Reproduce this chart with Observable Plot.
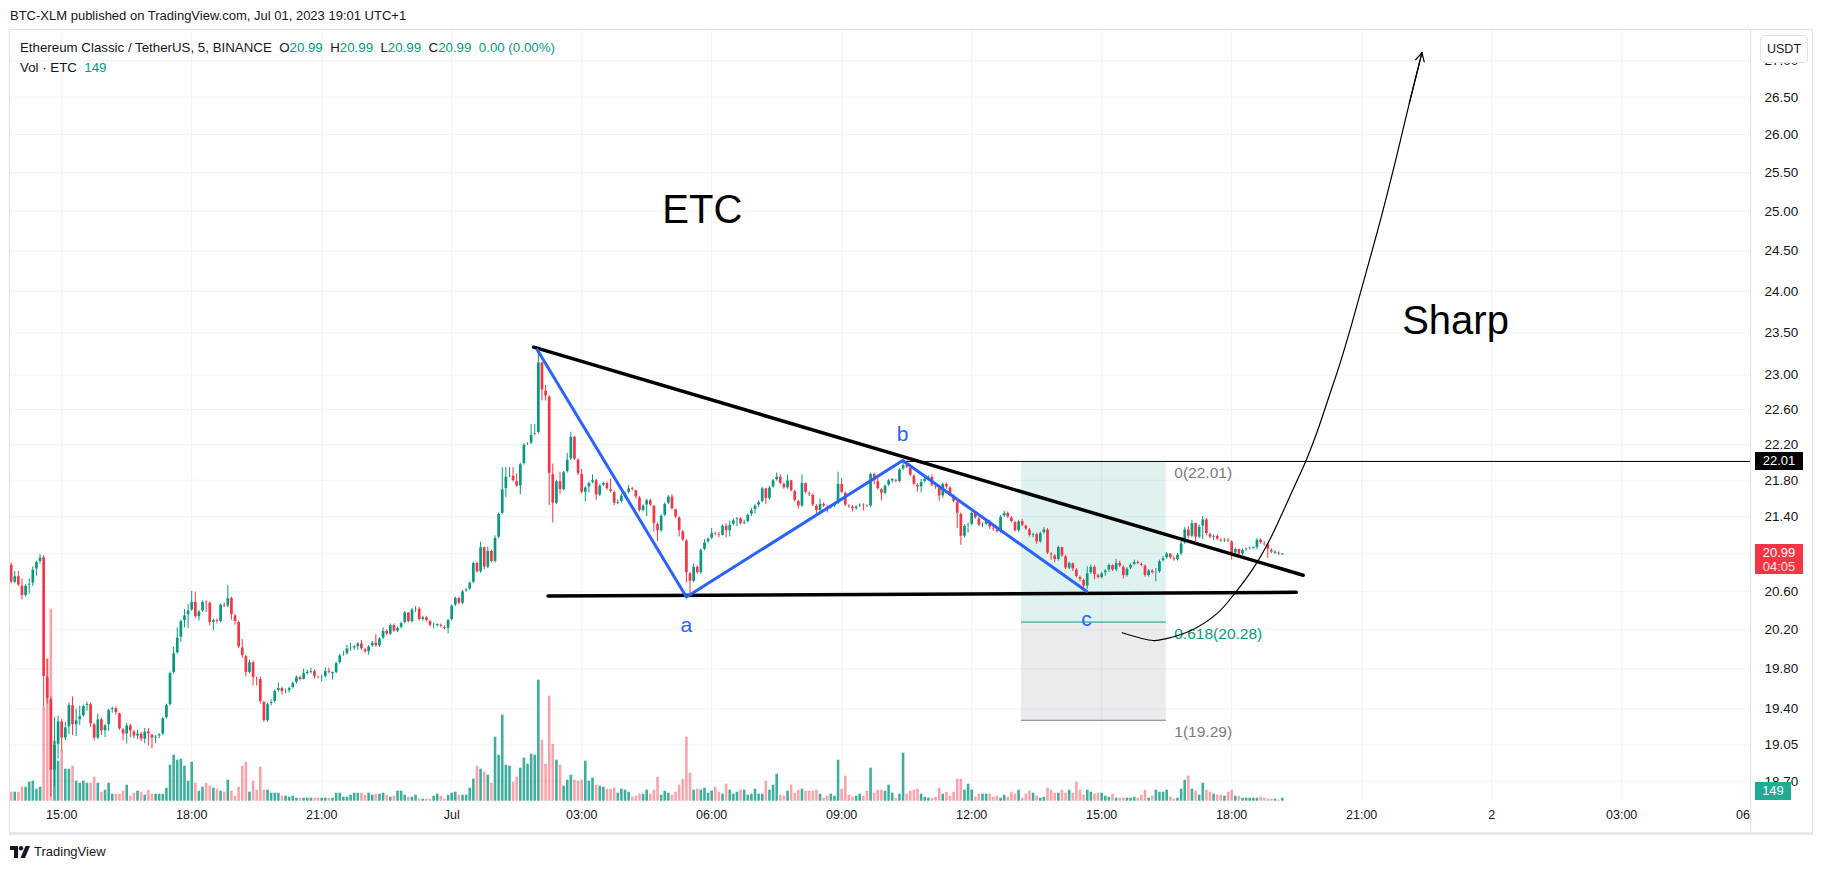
<!DOCTYPE html>
<html><head><meta charset="utf-8">
<script src="https://cdn.jsdelivr.net/npm/d3@7"></script>
<script src="https://cdn.jsdelivr.net/npm/@observablehq/plot@0.6"></script>
<style>
html,body{margin:0;padding:0;background:#fff;}
body{font-family:"Liberation Sans",Arial,sans-serif;color:#131722;width:1824px;height:872px;position:relative;overflow:hidden;}
#pub{position:absolute;left:10px;top:8px;font-size:13px;line-height:16px;white-space:nowrap;}
#box{position:absolute;left:9px;top:29px;width:1802px;height:802px;border:1px solid #e0e3eb;border-bottom:3px solid #e6e8ee;overflow:hidden;}
.layer{position:absolute;left:0;top:0;}
#legend{position:absolute;left:10px;top:8px;font-size:13.3px;line-height:20px;white-space:nowrap;z-index:10;}
#legend .g{color:#089981;}
.badge{position:absolute;left:1745px;width:48px;color:#fff;font-size:13px;line-height:17px;text-align:center;z-index:20;}
#usdt{position:absolute;left:1750px;top:5px;width:46px;height:26px;border:1px solid #e0e3eb;border-radius:4px;background:#fff;font-size:12.5px;line-height:26px;text-align:center;z-index:21;}
#footer{position:absolute;left:10px;top:843px;font-size:13px;line-height:18px;display:flex;align-items:center;gap:4px;}
</style></head><body>
<div id="pub">BTC-XLM published on TradingView.com, Jul 01, 2023 19:01 UTC+1</div>
<div id="box"></div>
<div id="footer"><svg width="20" height="12" viewBox="0 0 20 12"><path d="M0 0h8v12h-4v-8h-4z" fill="#131722"/><circle cx="11" cy="2.2" r="2.2" fill="#131722"/><path d="M15.5 0h4.5l-5 12h-4.5z" fill="#131722"/></svg><span>TradingView</span></div>
<script>
// ---------------- data ----------------
const FIRST = -122;               // candle index of first candle (0 = Jul 1, 00:00)
const open0 = 20.88;
const close = [
20.69,20.76,20.66,20.55,20.66,20.68,20.83,20.91,20.96,19.72,19.50,18.80,
19.05,19.28,19.11,19.22,19.44,19.24,19.29,19.33,19.43,19.45,19.25,19.11,
19.30,19.18,19.24,19.39,19.41,19.36,19.20,19.15,19.24,19.18,19.13,19.16,
19.10,19.18,19.15,19.11,19.13,19.15,19.31,19.44,19.76,19.96,20.12,20.29,
20.35,20.40,20.49,20.33,20.39,20.49,20.48,20.27,20.30,20.28,20.46,20.44,
20.53,20.35,20.28,20.02,19.93,19.76,19.87,19.71,19.70,19.47,19.28,19.45,
19.47,19.58,19.61,19.57,19.58,19.61,19.66,19.72,19.69,19.76,19.76,19.78,
19.72,19.71,19.72,19.78,19.76,19.76,19.86,19.94,19.95,20.01,20.02,20.02,
20.06,20.00,19.97,20.03,20.07,20.03,20.11,20.19,20.15,20.25,20.18,20.22,
20.27,20.38,20.28,20.41,20.42,20.30,20.33,20.29,20.24,20.25,20.25,20.23,
20.21,20.30,20.45,20.53,20.47,20.60,20.62,20.69,20.90,20.80,21.07,20.85,
21.03,20.91,21.17,21.43,21.70,21.84,21.85,21.79,21.73,21.98,22.20,22.21,
22.31,22.33,23.15,22.82,22.75,21.87,21.54,21.79,21.69,21.89,22.03,22.29,
22.03,21.87,21.66,21.72,21.77,21.80,21.63,21.74,21.77,21.70,21.67,21.54,
21.56,21.63,21.66,21.71,21.69,21.61,21.46,21.52,21.58,21.52,21.32,21.24,
21.41,21.54,21.62,21.48,21.39,21.24,21.14,20.79,20.70,20.86,20.79,21.04,
21.12,21.16,21.22,21.21,21.19,21.30,21.24,21.31,21.36,21.38,21.32,21.34,
21.42,21.47,21.52,21.56,21.71,21.59,21.72,21.80,21.84,21.76,21.71,21.80,
21.68,21.57,21.51,21.77,21.66,21.64,21.52,21.46,21.54,21.51,21.49,21.51,
21.54,21.76,21.66,21.52,21.51,21.48,21.51,21.53,21.52,21.51,21.87,21.79,
21.70,21.65,21.74,21.80,21.80,21.78,21.92,21.97,21.94,21.85,21.75,21.72,
21.78,21.82,21.84,21.74,21.72,21.62,21.76,21.72,21.63,21.56,21.43,21.18,
21.30,21.31,21.44,21.38,21.30,21.31,21.35,21.28,21.26,21.23,21.40,21.44,
21.39,21.34,21.24,21.35,21.30,21.26,21.19,21.21,21.12,21.22,21.26,21.00,
20.98,20.93,21.07,20.97,20.84,20.90,20.83,20.75,20.72,20.65,20.79,20.86,
20.77,20.74,20.79,20.82,20.88,20.82,20.90,20.86,20.76,20.84,20.88,20.91,
20.89,20.87,20.76,20.82,20.79,20.80,20.92,20.95,21.00,20.95,20.93,20.99,
21.11,21.26,21.18,21.33,21.17,21.29,21.37,21.21,21.17,21.19,21.15,21.13,
21.15,21.13,21.00,21.05,20.99,21.04,21.05,21.06,21.06,21.15,21.11,21.10,
21.04,21.01,21.01,20.99,20.99];
const high = [
20.90,20.81,20.81,20.73,20.67,20.73,20.86,20.92,20.99,20.98,19.90,19.52,
19.32,19.33,19.30,19.27,19.46,19.52,19.40,19.43,19.44,19.47,19.46,19.26,
19.35,19.31,19.25,19.40,19.42,19.42,19.36,19.21,19.26,19.25,19.19,19.19,
19.17,19.21,19.21,19.15,19.14,19.16,19.32,19.45,19.77,20.02,20.22,20.30,
20.41,20.46,20.60,20.59,20.40,20.50,20.50,20.49,20.31,20.31,20.47,20.48,
20.66,20.54,20.36,20.29,20.10,19.94,19.89,19.88,19.72,19.72,19.48,19.46,
19.49,19.59,19.66,19.62,19.60,19.62,19.67,19.73,19.73,19.80,19.79,19.81,
19.79,19.73,19.74,19.81,19.81,19.77,19.87,19.95,19.98,20.04,20.06,20.04,
20.07,20.09,20.01,20.04,20.08,20.15,20.12,20.22,20.20,20.26,20.26,20.23,
20.28,20.39,20.38,20.42,20.44,20.43,20.34,20.34,20.30,20.27,20.26,20.26,
20.24,20.31,20.46,20.54,20.54,20.61,20.63,20.70,20.91,20.91,21.12,21.07,
21.07,21.04,21.19,21.44,21.94,21.94,21.94,21.94,21.87,21.99,22.21,22.22,
22.43,22.43,23.29,23.15,22.88,22.76,21.98,21.80,21.89,21.90,22.10,22.34,
22.29,22.04,21.92,21.73,21.78,21.86,21.81,21.75,21.78,21.78,21.81,21.68,
21.58,21.65,21.67,21.74,21.72,21.69,21.62,21.53,21.59,21.59,21.52,21.33,
21.42,21.55,21.63,21.64,21.48,21.40,21.25,21.15,20.80,20.89,20.87,21.05,
21.15,21.17,21.27,21.23,21.23,21.31,21.32,21.35,21.37,21.39,21.39,21.36,
21.43,21.49,21.53,21.57,21.72,21.71,21.73,21.81,21.88,21.86,21.77,21.86,
21.80,21.69,21.58,21.86,21.77,21.67,21.65,21.53,21.59,21.55,21.52,21.52,
21.55,21.89,21.82,21.67,21.53,21.52,21.52,21.54,21.54,21.53,21.88,21.88,
21.83,21.71,21.75,21.81,21.82,21.81,21.93,22.00,22.00,21.95,21.86,21.76,
21.81,21.83,21.85,21.86,21.75,21.73,21.77,21.77,21.73,21.64,21.57,21.44,
21.31,21.33,21.45,21.45,21.39,21.33,21.36,21.36,21.30,21.27,21.41,21.46,
21.45,21.40,21.35,21.36,21.37,21.31,21.27,21.22,21.22,21.23,21.28,21.27,
21.01,20.99,21.08,21.07,20.98,20.91,20.90,20.84,20.76,20.73,20.86,20.88,
20.87,20.78,20.80,20.83,20.89,20.88,20.94,20.92,20.87,20.85,20.89,20.93,
20.92,20.90,20.88,20.83,20.83,20.84,20.93,20.97,21.01,21.00,20.97,21.00,
21.13,21.28,21.29,21.36,21.33,21.31,21.40,21.38,21.22,21.20,21.20,21.16,
21.16,21.16,21.14,21.06,21.05,21.05,21.06,21.07,21.07,21.16,21.16,21.13,
21.11,21.05,21.03,21.02,20.99];
const low = [
20.68,20.68,20.65,20.51,20.54,20.57,20.65,20.76,20.89,19.42,19.45,18.55,
18.64,18.91,18.99,19.09,19.15,19.14,19.13,19.24,19.32,19.38,19.22,19.09,
19.10,19.14,19.12,19.18,19.36,19.34,19.19,19.09,19.06,19.12,19.11,19.10,
19.08,19.06,19.04,19.01,19.06,19.11,19.14,19.30,19.43,19.75,19.95,20.07,
20.22,20.21,20.39,20.32,20.29,20.38,20.38,20.24,20.19,20.26,20.27,20.43,
20.43,20.30,20.25,20.01,19.91,19.72,19.75,19.63,19.63,19.45,19.27,19.27,
19.43,19.46,19.57,19.54,19.55,19.56,19.60,19.65,19.68,19.69,19.74,19.75,
19.70,19.70,19.67,19.71,19.75,19.69,19.75,19.85,19.93,19.94,19.98,19.99,
19.99,19.99,19.96,19.94,20.02,20.02,20.02,20.10,20.14,20.14,20.17,20.17,
20.21,20.26,20.27,20.27,20.38,20.29,20.29,20.28,20.23,20.21,20.23,20.22,
20.20,20.16,20.29,20.44,20.46,20.46,20.59,20.61,20.68,20.79,20.79,20.83,
20.84,20.90,20.90,21.16,21.42,21.61,21.83,21.78,21.72,21.64,21.97,22.19,
22.20,22.30,22.32,22.70,22.70,21.52,21.33,21.53,21.64,21.68,21.88,22.02,
22.02,21.85,21.65,21.56,21.66,21.76,21.58,21.62,21.73,21.69,21.66,21.52,
21.53,21.55,21.60,21.65,21.68,21.59,21.45,21.45,21.40,21.51,21.23,21.13,
21.23,21.40,21.53,21.47,21.38,21.18,21.13,20.69,20.55,20.69,20.78,20.78,
21.03,21.11,21.15,21.19,21.17,21.19,21.17,21.18,21.30,21.29,21.31,21.31,
21.33,21.40,21.43,21.50,21.55,21.53,21.58,21.71,21.79,21.75,21.70,21.70,
21.67,21.56,21.48,21.50,21.65,21.62,21.51,21.43,21.45,21.50,21.44,21.48,
21.50,21.53,21.65,21.51,21.49,21.45,21.47,21.50,21.46,21.50,21.50,21.75,
21.69,21.57,21.64,21.73,21.77,21.77,21.77,21.91,21.93,21.84,21.74,21.67,
21.66,21.77,21.80,21.73,21.70,21.57,21.60,21.70,21.62,21.55,21.27,21.09,
21.17,21.22,21.30,21.37,21.29,21.28,21.30,21.26,21.24,21.22,21.22,21.39,
21.38,21.33,21.23,21.23,21.29,21.25,21.18,21.17,21.10,21.11,21.21,20.99,
20.93,20.90,20.92,20.96,20.83,20.83,20.81,20.74,20.70,20.61,20.62,20.78,
20.72,20.73,20.73,20.76,20.80,20.81,20.81,20.85,20.73,20.75,20.83,20.87,
20.88,20.86,20.75,20.75,20.78,20.70,20.79,20.91,20.94,20.94,20.92,20.92,
20.98,21.10,21.16,21.17,21.13,21.16,21.15,21.19,21.16,21.14,21.14,21.12,
21.12,21.12,20.93,20.99,20.98,20.98,21.02,21.04,21.05,21.04,21.10,21.08,
20.95,21.00,20.99,20.98,20.99];
const volume = [
450,450,450,700,700,950,1000,600,700,4700,7100,9600,
3000,2000,2550,1600,1600,1750,1000,900,1000,900,900,1200,
900,450,550,900,350,350,350,500,800,250,400,500,
450,300,550,350,350,350,350,650,1800,2300,2050,2100,
1750,1000,1950,900,500,700,900,750,650,600,500,450,
1050,500,250,700,1750,1950,450,1000,550,1700,550,550,
400,400,400,250,250,200,250,150,150,150,150,150,
150,150,150,150,150,150,400,400,200,200,300,400,
400,400,300,400,300,350,350,400,300,200,250,500,
500,300,200,200,300,100,100,100,100,250,350,250,
100,300,400,450,300,300,300,650,1100,1750,1600,1450,
1300,900,3200,2300,4300,1800,1750,950,1200,1650,2150,1850,
2350,2300,6050,3050,1850,5250,2850,2050,1800,750,1050,1300,
1050,1000,1050,2000,1000,1150,800,750,700,600,600,650,
400,600,550,450,200,250,350,350,550,350,550,1200,
300,500,400,300,450,800,1100,3200,1400,550,600,550,
650,400,500,700,450,350,850,550,350,450,550,550,
300,350,600,350,350,1000,550,800,1350,300,250,500,
800,400,550,600,500,500,500,550,350,150,250,350,
250,2050,600,1250,300,200,250,350,250,500,1650,400,
550,550,500,800,400,150,350,2400,350,500,550,600,
350,200,150,150,200,650,350,450,250,450,1100,1100,
550,850,550,200,350,350,350,350,200,250,150,300,
200,450,350,550,150,350,500,400,250,150,200,650,
550,400,400,550,400,550,400,950,550,300,550,450,
350,400,400,250,200,350,150,150,150,150,150,200,
150,300,550,150,250,550,450,450,550,200,100,150,
600,1050,1250,600,500,300,900,550,450,350,300,300,
250,450,550,250,250,150,150,150,150,150,200,150,
100,100,100,50,149];

const priceTicks = [18.70,19.05,19.40,19.80,20.20,20.60,21.00,21.40,21.80,22.20,22.60,23.00,23.50,24.00,24.50,25.00,25.50,26.00,26.50,27.00];
const timeTickISO = ["2023-06-30T15:00Z","2023-06-30T18:00Z","2023-06-30T21:00Z","2023-07-01T00:00Z","2023-07-01T03:00Z","2023-07-01T06:00Z","2023-07-01T09:00Z","2023-07-01T12:00Z","2023-07-01T15:00Z","2023-07-01T18:00Z","2023-07-01T21:00Z","2023-07-02T00:00Z","2023-07-02T03:00Z","2023-07-02T06:00Z"];
const timeTickLabels = ["15:00","18:00","21:00","Jul","03:00","06:00","09:00","12:00","15:00","18:00","21:00","2","03:00","06:00"];

// drawings (candle index, price)
const upperTrend = [{i:22.7,p:23.33},{i:235.8,p:20.77}];
const lowerTrend = [{i:26.7,p:20.55},{i:233.9,p:20.59}];
const abcPath = [{i:23.7,p:23.30},{i:65.0,p:20.54},{i:124.9,p:22.02},{i:175.8,p:20.60}];
const labelsBelow = [{i:65.0,p:20.54,t:"a"},{i:175.8,p:20.60,t:"c"}];
const labelsAbove = [{i:124.9,p:22.02,t:"b"}];
const hLevel = {i:124.9, p:22.01};
const fibRange = {i1:157.8, i2:197.9};
const fibLevels = [{p:22.01,label:"0(22.01)",color:"#787b86"},{p:20.28,label:"0.618(20.28)",color:"#089981"},{p:19.29,label:"1(19.29)",color:"#787b86"}];
const curvePts = [{i:185.7,p:20.17},{i:194.4,p:20.09},{i:197.9,p:20.11},{i:204.6,p:20.19},{i:212.0,p:20.37},{i:217.1,p:20.59},{i:222.1,p:20.85},{i:226.7,p:21.16},{i:230.4,p:21.47},{i:233.7,p:21.76},{i:236.7,p:22.03},{i:239.8,p:22.36},{i:242.8,p:22.73},{i:246.1,p:23.15},{i:249.4,p:23.63},{i:253.0,p:24.20},{i:257.2,p:24.89},{i:261.4,p:25.66},{i:265.2,p:26.42},{i:268.7,p:27.11}];
const notes = [{i:69.4,p:25.02,t:"ETC"},{i:278.0,p:23.64,t:"Sharp"}];

// ---------------- build ----------------
const FIVE = 300000;
const T0 = Date.UTC(2023,6,1,0,0);
const tIdx = i => new Date(T0 + i*FIVE);
const UP = "#089981", DN = "#f23645";
const candles = close.map((c,k) => {
  const o = k ? close[k-1] : open0;
  return {t:tIdx(FIRST+k), o, c, h:Math.max(high[k],o,c), l:Math.min(low[k],o,c), v:volume[k], up:c>=o};
});
const last = candles[candles.length-1];

const W = 1802, H = 802;
const xOpt = {type:"utc", domain:[tIdx(-122.18), tIdx(376.85)], range:[0, W], axis:null};
const yOpt = {type:"log", domain:[18.70, 26.50], range:[750.7, 66.7], axis:null};
const FONT = '"Liberation Sans", Arial, sans-serif';
const base = {width:W, height:H, marginTop:0, marginLeft:0, marginRight:0, marginBottom:0,
  x:xOpt, y:yOpt, color:{type:"identity"}, style:{fontFamily:FONT, background:"transparent", overflow:"visible"}};

const box = document.getElementById("box");
function addLayer(svg, z, left){ svg.classList.add("layer"); svg.style.zIndex = z; if(left!=null) svg.style.left = left+"px"; box.appendChild(svg); return svg; }

// layer 1: grid + time axis
const tickDates = timeTickISO.map(s => new Date(s));
addLayer(Plot.plot({...base, marginBottom:32, marks:[
  Plot.ruleY(priceTicks, {y:d=>d, stroke:"#f0f3fa", strokeWidth:1}),
  Plot.ruleX(tickDates, {x:d=>d, stroke:"#f0f3fa", strokeWidth:1}),
  Plot.text(tickDates, {x:d=>d, text:(d,i)=>timeTickLabels[i], frameAnchor:"bottom", dy:18, fontSize:12.5, fill:"#131722"})
]}), 1);

// layer 2: volume
addLayer(Plot.plot({...base, y:{type:"linear", domain:[0,10000], range:[770.7,570.7], axis:null}, marks:[
  Plot.ruleX(candles, {x:"t", y1:0, y2:"v", stroke:d=>d.up?"rgba(8,153,129,0.78)":"rgba(242,54,69,0.45)", strokeWidth:2.6})
]}), 2);

// layer 3: price, drawings
const X = d => tIdx(d.i);
addLayer(Plot.plot({...base, marks:[
  Plot.rect([fibRange], {x1:d=>tIdx(d.i1), x2:d=>tIdx(d.i2), y1:20.28, y2:22.01, fill:"#089981", fillOpacity:0.13}),
  Plot.rect([fibRange], {x1:d=>tIdx(d.i1), x2:d=>tIdx(d.i2), y1:19.29, y2:20.28, fill:"#787b86", fillOpacity:0.15}),
  Plot.ruleY(fibLevels.slice(1), {y:"p", x1:tIdx(fibRange.i1), x2:tIdx(fibRange.i2), stroke:"color", strokeWidth:1}),
  Plot.text(fibLevels, {y:"p", x:tIdx(fibRange.i2), text:"label", fill:"color", dx:8, dy:12, textAnchor:"start", fontSize:15.5}),
  Plot.ruleX(candles, {x:"t", y1:"l", y2:"h", stroke:d=>d.up?UP:DN, strokeWidth:1}),
  Plot.ruleX(candles, {x:"t", y1:d=>Math.min(d.o,d.c), y2:d=>Math.max(d.o,d.c), stroke:d=>d.up?UP:DN, strokeWidth:2.7, insetTop:-0.6, insetBottom:-0.6}),
  Plot.ruleY([hLevel], {y:"p", x1:X, x2:tIdx(376.85), stroke:"#000", strokeWidth:1}),
  Plot.line(upperTrend, {x:X, y:"p", stroke:"#000", strokeWidth:3.5, strokeLinecap:"round"}),
  Plot.line(lowerTrend, {x:X, y:"p", stroke:"#000", strokeWidth:3.5, strokeLinecap:"round"}),
  Plot.line(abcPath, {x:X, y:"p", stroke:"#2962ff", strokeWidth:3, strokeLinejoin:"round", strokeLinecap:"round"}),
  Plot.text(labelsBelow, {x:X, y:"p", text:"t", dy:28, fill:"#2962ff", fontSize:21}),
  Plot.text(labelsAbove, {x:X, y:"p", text:"t", dy:-26, fill:"#2962ff", fontSize:21}),
  Plot.line(curvePts, {x:X, y:"p", curve:"catmull-rom", stroke:"#000", strokeWidth:1.2}),
  Plot.arrow([curvePts.slice(-2)], {x1:d=>tIdx(d[0].i), y1:d=>d[0].p, x2:d=>tIdx(d[1].i), y2:d=>d[1].p, stroke:"#000", strokeWidth:1.2, headLength:12, headAngle:55}),
  Plot.text(notes, {x:X, y:"p", text:"t", fill:"#000", fontSize:40})
]}), 3);

// layer 4: price axis
const axisPlot = Plot.plot({width:62, height:H, margin:0, x:{axis:null, domain:[0,1]}, y:{...yOpt},
  style:{fontFamily:FONT, background:"#fff"}, marks:[
  Plot.ruleX([0], {stroke:"#e0e3eb"}),
  Plot.text(priceTicks, {y:d=>d, text:d=>d.toFixed(2), frameAnchor:"left", dx:14, textAnchor:"start", fontSize:13.5, fill:"#131722"})
]});
addLayer(axisPlot, 4, 1740);
const ys = axisPlot.scale("y");

function badge(top, h, bg, html){ const d=document.createElement("div"); d.className="badge"; d.style.top=top+"px"; d.style.height=h+"px"; d.style.background=bg; d.innerHTML=html; box.appendChild(d); return d; }
const yH = ys.apply(hLevel.p);
badge(yH-9, 18, "#000", hLevel.p.toFixed(2));
const yL = ys.apply(last.c);
badge(yL-10, 30, DN, `<div style="line-height:15px;padding-top:1px">${last.c.toFixed(2)}</div><div style="line-height:13px;opacity:.85">04:05</div>`);
const vS = {apply: v => 770.7 - v/50};
const yV = Math.min(vS.apply(last.v) - 9, 770.7 - 19);
const vb = badge(yV, 18, "#22ab94", String(last.v)); vb.style.width = "36px";
const u = document.createElement("div"); u.id="usdt"; u.textContent="USDT"; box.appendChild(u);

// legend
const lg = document.createElement("div"); lg.id="legend";
const f = v => v.toFixed(2);
lg.innerHTML = `<div>Ethereum Classic / TetherUS, 5, BINANCE&nbsp;&nbsp;O<span class="g">${f(last.o)}</span>&nbsp;&nbsp;H<span class="g">${f(last.h)}</span>&nbsp;&nbsp;L<span class="g">${f(last.l)}</span>&nbsp;&nbsp;C<span class="g">${f(last.c)}</span>&nbsp;&nbsp;<span class="g">${f(last.c-last.o)} (0.00%)</span></div><div>Vol · ETC&nbsp;&nbsp;<span class="g">${last.v}</span></div>`;
box.appendChild(lg);
</script>
</body></html>
